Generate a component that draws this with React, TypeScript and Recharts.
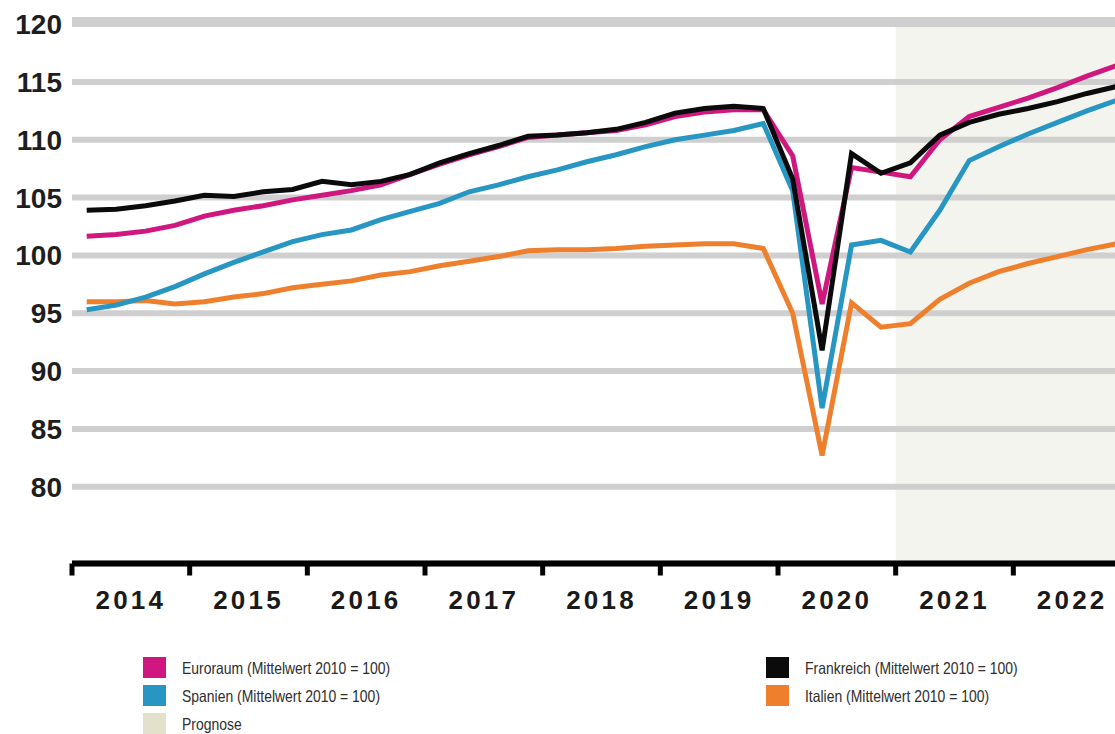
import React from "react";
import {
  ComposedChart,
  Line,
  XAxis,
  YAxis,
  CartesianGrid,
  ReferenceArea,
} from "recharts";

// years on the x axis, four quarters each
const YEARS = [2014, 2015, 2016, 2017, 2018, 2019, 2020, 2021, 2022];
const Y_TICKS = [80, 85, 90, 95, 100, 105, 110, 115, 120];
const PROGNOSE_FROM = 2021;

// quarterly index values (Mittelwert 2010 = 100), 2014 Q1 .. 2022 Q4
const EURORAUM = [
  101.65, 101.8, 102.1, 102.6, 103.4, 103.9, 104.3, 104.8,
  105.2, 105.6, 106.1, 107.0, 107.9, 108.7, 109.4, 110.2,
  110.4, 110.6, 110.8, 111.3, 112.0, 112.4, 112.6, 112.6,
  108.6, 95.8, 107.6, 107.2, 106.8, 110.0, 112.0, 112.8,
  113.6, 114.5, 115.5, 116.4,
];
const SPANIEN = [
  95.3, 95.7, 96.4, 97.3, 98.4, 99.4, 100.3, 101.2,
  101.8, 102.2, 103.1, 103.8, 104.5, 105.5, 106.1, 106.8,
  107.4, 108.1, 108.7, 109.4, 110.0, 110.4, 110.8, 111.4,
  105.6, 86.8, 100.9, 101.3, 100.3, 103.9, 108.2, 109.4,
  110.5, 111.5, 112.5, 113.4,
];
const FRANKREICH = [
  103.9, 104.0, 104.3, 104.7, 105.2, 105.1, 105.5, 105.7,
  106.4, 106.1, 106.4, 107.0, 108.0, 108.8, 109.5, 110.3,
  110.4, 110.6, 110.9, 111.5, 112.3, 112.7, 112.9, 112.7,
  106.6, 91.8, 108.8, 107.1, 108.0, 110.4, 111.5, 112.2,
  112.7, 113.3, 114.0, 114.6,
];
const ITALIEN = [
  96.0, 96.0, 96.1, 95.8, 96.0, 96.4, 96.7, 97.2,
  97.5, 97.8, 98.3, 98.6, 99.1, 99.5, 99.9, 100.4,
  100.5, 100.5, 100.6, 100.8, 100.9, 101.0, 101.0, 100.6,
  95.0, 82.7, 95.9, 93.8, 94.1, 96.2, 97.6, 98.6,
  99.3, 99.9, 100.5, 101.0,
];

const COLORS = {
  euroraum: "#d0167f",
  spanien: "#2796c2",
  frankreich: "#0b0b0b",
  italien: "#ee7f2d",
  prognose: "#f4f4ee",
  prognoseKey: "#e3e1cc",
  grid: "#cfcfcf",
};

// drawing order: black on top
const SERIES = [
  { key: "italien", color: COLORS.italien },
  { key: "spanien", color: COLORS.spanien },
  { key: "euroraum", color: COLORS.euroraum },
  { key: "frankreich", color: COLORS.frankreich },
];

const data = EURORAUM.map((_, i) => ({
  x: i + 0.5,
  euroraum: EURORAUM[i],
  spanien: SPANIEN[i],
  frankreich: FRANKREICH[i],
  italien: ITALIEN[i],
}));

const quarters = YEARS.length * 4;
// every 2 quarters: even multiples of 4 are year boundaries, the rest year centres
const xTicks = Array.from({ length: quarters / 2 + 1 }, (_, i) => i * 2);
const prognoseStart = YEARS.indexOf(PROGNOSE_FROM) * 4;

const FONT = '"Liberation Sans", Arial, sans-serif';

function YearTick(props: any) {
  const { x, y, payload } = props;
  const v = payload.value as number;
  if (v % 4 === 0) {
    return <line x1={x} x2={x} y1={y} y2={y + 12} stroke="#000" strokeWidth={5} />;
  }
  return (
    <text
      x={x}
      y={y + 45}
      textAnchor="middle"
      fontFamily={FONT}
      fontSize={26}
      fontWeight={700}
      fill="#1a1a1a"
      letterSpacing={3.2}
    >
      {YEARS[(v - 2) / 4]}
    </text>
  );
}

function LegendItem({
  color,
  label,
  left,
  top,
}: {
  color: string;
  label: string;
  left: number;
  top: number;
}) {
  return (
    <div style={{ position: "absolute", left, top, height: 22 }}>
      <div
        style={{
          position: "absolute",
          left: 0,
          top: 0,
          width: 23,
          height: 21,
          background: color,
        }}
      />
      <div
        style={{
          position: "absolute",
          left: 39,
          top: 1,
          whiteSpace: "nowrap",
          fontFamily: FONT,
          fontSize: 16.5,
          lineHeight: "20px",
          color: "#2e2e2e",
          transform: "scaleX(0.845)",
          transformOrigin: "left center",
        }}
      >
        {label}
      </div>
    </div>
  );
}

export default function App() {
  return (
    <div
      style={{
        position: "fixed",
        left: 0,
        top: 0,
        width: 1115,
        height: 734,
        overflow: "hidden",
        background: "#fff",
      }}
    >
      <ComposedChart
        width={1131}
        height={640}
        data={data}
        margin={{ top: 20, right: 0, left: 0, bottom: 20.5 }}
      >
        <ReferenceArea
          x1={prognoseStart}
          x2={quarters}
          fill={COLORS.prognose}
          fillOpacity={1}
          stroke="none"
          zIndex={-200}
        />
        <CartesianGrid vertical={false} stroke={COLORS.grid} strokeWidth={6} />
        <XAxis
          type="number"
          dataKey="x"
          domain={[0, quarters]}
          ticks={xTicks}
          interval={0}
          height={56}
          axisLine={{ stroke: "#000", strokeWidth: 6 }}
          tickLine={false}
          tickSize={0}
          tickMargin={0}
          tick={<YearTick />}
        />
        <YAxis
          type="number"
          domain={[73.37, 120.35]}
          ticks={Y_TICKS}
          width={72}
          axisLine={false}
          tickLine={false}
          tickSize={0}
          tickMargin={10}
          interval={0}
          tick={{
            fontSize: 28,
            fontWeight: 700,
            fill: "#1e1e1e",
            fontFamily: FONT,
          }}
        />
        {SERIES.map((s) => (
          <Line
            key={s.key}
            type="linear"
            dataKey={s.key}
            stroke={s.color}
            strokeWidth={5}
            dot={false}
            activeDot={false}
            isAnimationActive={false}
          />
        ))}
      </ComposedChart>

      <LegendItem
        color={COLORS.euroraum}
        label="Euroraum (Mittelwert 2010 = 100)"
        left={143}
        top={657}
      />
      <LegendItem
        color={COLORS.spanien}
        label="Spanien (Mittelwert 2010 = 100)"
        left={143}
        top={685}
      />
      <LegendItem
        color={COLORS.prognoseKey}
        label="Prognose"
        left={143}
        top={713}
      />
      <LegendItem
        color={COLORS.frankreich}
        label="Frankreich (Mittelwert 2010 = 100)"
        left={766}
        top={657}
      />
      <LegendItem
        color={COLORS.italien}
        label="Italien (Mittelwert 2010 = 100)"
        left={766}
        top={685}
      />
    </div>
  );
}
